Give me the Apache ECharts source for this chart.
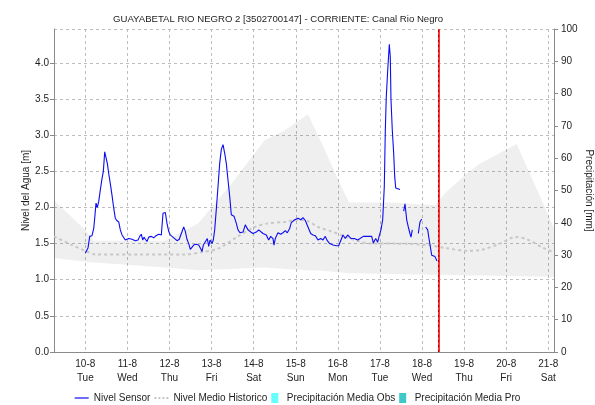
<!DOCTYPE html>
<html>
<head>
<meta charset="utf-8">
<script src="https://cdn.jsdelivr.net/npm/echarts@6/dist/echarts.min.js"></script>
<style>
  html, body { margin: 0; padding: 0; background: #ffffff; }
  #chart { width: 595px; height: 405px; }
</style>
</head>
<body>
<div id="chart"></div>
<script>
// Station hydrograph: sensor level, historical mean level and historical range band.
// Time is expressed as day of August (fractional days).

const dayTicks = [10, 11, 12, 13, 14, 15, 16, 17, 18, 19, 20, 21];
const dayNames = ['Tue', 'Wed', 'Thu', 'Fri', 'Sat', 'Sun', 'Mon', 'Tue', 'Wed', 'Thu', 'Fri', 'Sat'];
const dayStart = 9.256;
const dayEnd = 21.136;
const nowMark = 18.387;

// Sensor water level [m]; null marks missing readings
const sensorDay = [
  10.000, 10.064, 10.105, 10.159, 10.200, 10.223, 10.254, 10.285, 10.318, 10.356,
  10.397, 10.428, 10.461, 10.492, 10.523, 10.556, 10.594, 10.634, 10.675, 10.713,
  10.746, 10.794, 10.832, 10.872, 10.912, 10.950, 10.991, 11.031, 11.110, 11.188,
  11.252, 11.292, 11.330, 11.364, 11.395, 11.426, 11.466, 11.506, 11.568, 11.625,
  11.680, 11.744, 11.806, 11.846, 11.901, 11.941, 11.981, 12.019, 12.060, 12.124,
  12.179, 12.233, 12.281, 12.338, 12.376, 12.416, 12.457, 12.495, 12.535, 12.575,
  12.630, 12.694, 12.742, 12.773, 12.804, 12.851, 12.899, 12.932, 12.963, 13.010,
  13.041, 13.074, 13.112, 13.153, 13.193, 13.231, 13.272, 13.312, 13.350, 13.390,
  13.431, 13.469, 13.533, 13.588, 13.628, 13.675, 13.747, 13.801, 13.866, 13.930,
  13.984, 14.063, 14.120, 14.167, 14.222, 14.300, 14.357, 14.405, 14.459, 14.483,
  14.514, 14.578, 14.642, 14.697, 14.752, 14.799, 14.856, 14.894, 14.975, 15.053,
  15.118, 15.172, 15.227, 15.291, 15.355, 15.410, 15.464, 15.529, 15.593, 15.647,
  15.702, 15.750, 15.807, 15.885, 15.963, 16.020, 16.068, 16.123, 16.177, 16.234,
  16.313, 16.391, 16.472, 16.527, 16.605, 16.686, 16.804, 16.843, 16.900, 16.947,
  16.985, 17.025, 17.066, 17.104, 17.128, 17.151, 17.185, 17.223, 17.246, 17.263,
  17.294, 17.327, 17.351, 17.375, 17.477, 17.520, 17.565, 17.596, 17.620, 17.636,
  17.674, 17.714, 17.738, 17.769, 17.840, 17.912, 17.952, 17.993, 18.040, 18.087,
  18.135, 18.166, 18.197, 18.230, 18.268, 18.308, 18.356
];
const sensorLevel = [
  1.37, 1.44, 1.60, 1.61, 1.71, 1.85, 2.06, 2.00, 2.08, 2.24,
  2.40, 2.50, 2.77, 2.76, 2.61, 2.47, 2.33, 2.17, 1.99, 1.85,
  1.82, 1.80, 1.69, 1.62, 1.62, 1.55, 1.53, 1.57, 1.56, 1.54,
  1.55, 1.60, 1.63, 1.55, 1.59, 1.56, 1.53, 1.59, 1.60, 1.58,
  1.61, 1.63, 1.62, 1.92, 1.93, 1.78, 1.67, 1.62, 1.61, 1.57,
  1.54, 1.56, 1.64, 1.73, 1.67, 1.56, 1.50, 1.42, 1.42, 1.48,
  1.49, 1.48, 1.43, 1.39, 1.48, 1.46, 1.57, 1.46, 1.55, 1.50,
  1.55, 1.69, 1.97, 2.29, 2.61, 2.80, 2.87, 2.75, 2.61, 2.38,
  2.15, 1.90, 1.88, 1.78, 1.69, 1.65, 1.66, 1.76, 1.69, 1.66,
  1.64, 1.66, 1.69, 1.70, 1.64, 1.62, 1.55, 1.60, 1.57, 1.48,
  1.57, 1.65, 1.63, 1.65, 1.68, 1.65, 1.71, 1.79, 1.83, 1.85,
  1.83, 1.86, 1.82, 1.73, 1.64, 1.62, 1.61, 1.55, 1.57, 1.55,
  1.60, 1.54, 1.50, 1.48, 1.47, 1.47, 1.54, 1.62, 1.57, 1.62,
  1.57, 1.57, 1.55, 1.57, 1.60, 1.60, 1.60, 1.51, 1.57, 1.52,
  1.61, 1.69, 1.83, 2.29, 3.07, 3.53, 3.90, 4.26, 4.09, 3.49,
  3.07, 2.75, 2.43, 2.27, 2.25, null, 1.95, 2.05, 1.92, 1.83,
  1.73, 1.64, 1.59, 1.69, null, 1.64, 1.80, 1.84, null, 1.73,
  1.69, 1.57, 1.46, 1.34, 1.35, 1.32, 1.26
];

// Historical mean level [m]
const histDay = [
  9.256, 9.684, 10.000, 10.238, 11.300, 12.370, 12.750, 13.153, 13.628, 14.025,
  14.341, 14.745, 15.053, 15.291, 15.529, 15.845, 16.163, 16.455, 16.804, 17.358,
  18.142, 18.546, 19.061, 19.378, 19.853, 20.209, 20.494, 20.882, 21.136
];
const histLevel = [
  1.60, 1.48, 1.40, 1.35, 1.35, 1.35, 1.38, 1.43, 1.60, 1.73,
  1.78, 1.80, 1.83, 1.81, 1.73, 1.67, 1.60, 1.54, 1.50, 1.50,
  1.48, 1.44, 1.40, 1.41, 1.50, 1.59, 1.56, 1.44, 1.38
];

// Historical range band [m]
const bandDay = [
  9.256, 10.00, 10.20, 11.89, 12.68, 13.47, 14.26, 14.74, 15.29, 15.69,
  16.08, 16.27, 17.28, 18.31, 18.55, 19.06, 19.38, 20.25, 21.136
];
const bandHigh = [
  2.10, 1.69, 1.54, 1.54, 1.78, 2.33, 2.93, 3.07, 3.29, 2.80,
  2.29, 2.07, 2.07, 2.03, 2.20, 2.47, 2.61, 2.88, 1.72
];
const bandLow = [
  1.30, 1.25, 1.24, 1.17, 1.13, 1.15, 1.17, 1.15, 1.13, 1.12,
  1.10, 1.09, 1.08, 1.07, 1.07, 1.06, 1.06, 1.05, 1.04
];

const levelMax = 4.47;
const precipMax = 100;

const FONT = 'Liberation Sans';
const TXT = '#1e1e1e';
const GRIDLINE = { color: '#bdbdbd', width: 1, type: [3, 3] };
const FRAME = '#8a8a8a';

const zip = (xs, ys) => xs.map((x, i) => [x, ys[i]]);
// legend glyphs: solid stroke, dashed stroke, filled box
const lineIcon = 'path://M0,0H14V1.2H0Z';
const dashIcon = 'path://M0,0h2v2h-2z M4,0h2v2h-2z M8,0h2v2h-2z M12,0h2v2h-2z';
const barIcon = 'path://M0,0H7V10H0Z';

const chart = echarts.init(document.getElementById('chart'), null, { renderer: 'canvas' });

chart.setOption({
  animation: false,
  backgroundColor: '#ffffff',
  textStyle: { fontFamily: FONT, color: TXT },
  title: {
    text: 'GUAYABETAL RIO NEGRO 2 [3502700147] - CORRIENTE: Canal Rio Negro',
    left: 108,
    top: 9,
    textStyle: { fontFamily: FONT, fontSize: 9.6, fontWeight: 'normal', color: TXT }
  },
  legend: {
    left: 'center',
    top: 388,
    itemWidth: 14,
    itemHeight: 10,
    itemGap: 4,
    textStyle: { fontFamily: FONT, fontSize: 10, color: TXT },
    data: [
      { name: 'Nivel Sensor', icon: lineIcon },
      { name: 'Nivel Medio Historico', icon: dashIcon },
      { name: 'Precipitación Media Obs', icon: barIcon },
      { name: 'Precipitación Media Pro', icon: barIcon }
    ]
  },
  grid: { left: 54, top: 29, width: 500, height: 323, outerBoundsMode: 'none', containLabel: false },
  xAxis: [
    {
      type: 'value',
      min: dayStart,
      max: dayEnd,
      position: 'bottom',
      axisLine: { lineStyle: { color: '#3a3a3a', type: 'dotted', width: 1 } },
      axisTick: { show: false, customValues: dayTicks },
      axisLabel: {
        customValues: dayTicks,
        color: TXT,
        fontSize: 10,
        lineHeight: 14,
        margin: 5,
        formatter: (v) => {
          const i = dayTicks.indexOf(Math.round(v));
          return Math.round(v) + '-8\n' + (i >= 0 ? dayNames[i] : '');
        }
      },
      splitLine: { show: true, lineStyle: GRIDLINE }
    },
    {
      type: 'value',
      min: dayStart,
      max: dayEnd,
      position: 'top',
      axisLine: { lineStyle: { color: FRAME } },
      axisTick: { show: false },
      axisLabel: { show: false },
      splitLine: { show: false }
    }
  ],
  yAxis: [
    {
      type: 'value',
      min: 0,
      max: levelMax,
      interval: 0.5,
      name: 'Nivel del Agua [m]',
      nameLocation: 'middle',
      nameGap: 23,
      nameMoveOverlap: false,
      nameTextStyle: { fontFamily: FONT, fontSize: 10, color: TXT },
      axisLine: { show: true, lineStyle: { color: FRAME } },
      axisTick: { show: true, length: 4, lineStyle: { color: FRAME } },
      axisLabel: {
        color: TXT, fontSize: 10, margin: 5, showMaxLabel: false,
        formatter: (v) => v.toFixed(1)
      },
      splitLine: { show: true, lineStyle: GRIDLINE }
    },
    {
      type: 'value',
      min: 0,
      max: precipMax,
      interval: 10,
      position: 'right',
      name: 'Precipitación [mm]',
      nameLocation: 'middle',
      nameRotate: -90,
      nameGap: 30,
      nameMoveOverlap: false,
      nameTextStyle: { fontFamily: FONT, fontSize: 10, color: TXT },
      axisLine: { show: true, lineStyle: { color: FRAME } },
      axisTick: { show: true, length: 4, lineStyle: { color: FRAME } },
      axisLabel: { color: TXT, fontSize: 10, margin: 7 },
      splitLine: { show: false }
    }
  ],
  series: [
    {
      name: 'Rango Historico',
      type: 'custom',
      silent: true,
      z: 1,
      data: [[dayStart, 0]],
      renderItem: (params, api) => {
        const pts = bandDay.map((d, i) => api.coord([d, bandHigh[i]]));
        for (let i = bandDay.length - 1; i >= 0; i--) {
          pts.push(api.coord([bandDay[i], bandLow[i]]));
        }
        return {
          type: 'polygon',
          shape: { points: pts },
          style: { fill: 'rgba(0,0,0,0.062)' }
        };
      }
    },
    {
      name: 'Nivel Medio Historico',
      type: 'line',
      data: zip(histDay, histLevel),
      symbol: 'none',
      smooth: 0.3,
      silent: true,
      lineStyle: { color: '#c8c8c8', width: 2, type: [3, 3] },
      itemStyle: { color: '#c4c4c4' },
      z: 3
    },
    {
      name: 'Nivel Sensor',
      type: 'line',
      data: zip(sensorDay, sensorLevel),
      symbol: 'none',
      connectNulls: false,
      silent: true,
      lineStyle: { color: '#0c0cf2', width: 1.1 },
      itemStyle: { color: '#0c0cf2' },
      z: 5,
      markLine: {
        silent: true,
        symbol: ['none', 'none'],
        label: { show: false },
        data: [
          { xAxis: nowMark, lineStyle: { color: '#ff3030', width: 2, type: 'solid' } },
          { xAxis: nowMark, lineStyle: { color: '#a80000', width: 1, type: [2, 3] } }
        ]
      }
    },
    {
      name: 'Precipitación Media Obs',
      type: 'bar',
      yAxisIndex: 1,
      data: [],
      itemStyle: { color: '#66ffff' }
    },
    {
      name: 'Precipitación Media Pro',
      type: 'bar',
      yAxisIndex: 1,
      data: [],
      itemStyle: { color: '#3ec8c8' }
    }
  ]
});
</script>
</body>
</html>
